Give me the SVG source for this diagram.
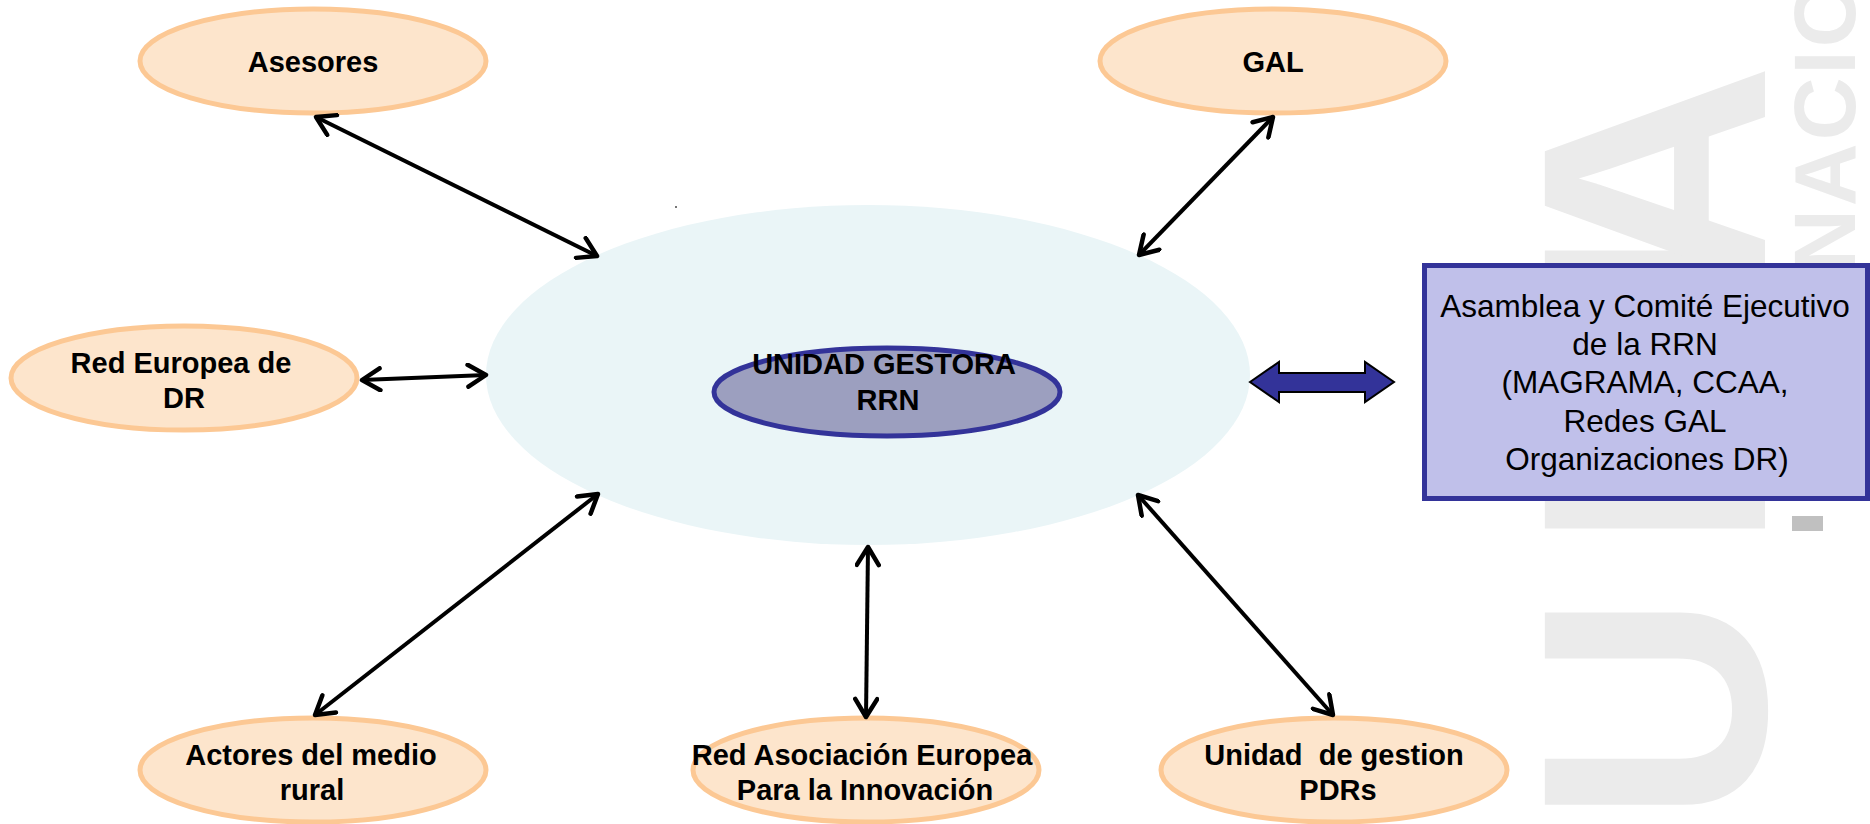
<svg xmlns="http://www.w3.org/2000/svg" width="1870" height="824" viewBox="0 0 1870 824">
  <style>
    .node ellipse { fill: #fde5cc; stroke: #fcc894; stroke-width: 5; }
    .lbl { font-family: "Liberation Sans", Arial, sans-serif; font-weight: bold; font-size: 29px; text-anchor: middle; fill: #000; }
    .box { font-family: "Liberation Sans", Arial, sans-serif; font-size: 31.5px; text-anchor: middle; fill: #000; }
    .wm { font-family: "Liberation Sans", Arial, sans-serif; font-weight: bold; fill: #ebebeb; }
    .conn line { stroke: #000; stroke-width: 4; marker-start: url(#arr); marker-end: url(#arr); }
  </style>
  <defs>
    <marker id="arr" markerUnits="userSpaceOnUse" markerWidth="26" markerHeight="26" viewBox="0 0 26 26" refX="21" refY="13" orient="auto-start-reverse">
      <path d="M3,2 L21,13 L3,24" fill="none" stroke="#000" stroke-width="4.5" stroke-linecap="round" stroke-linejoin="round"/>
    </marker>
  </defs>
  <rect x="0" y="0" width="1870" height="824" fill="#ffffff"/>

  <g id="watermark">
    <text class="wm" font-size="320" transform="rotate(-90)" x="-824 -550 -318 -294" y="1765">UNIA</text>
    <text class="wm" font-size="87" letter-spacing="3" transform="rotate(-90)" x="-272" y="1855">NACIO</text>
    <rect x="1792" y="516" width="31" height="15" fill="#c0c0c0"/>
  </g>

  <g id="halo">
    <ellipse cx="868" cy="375" rx="382" ry="170" fill="#eaf5f7"/>
    <rect x="675" y="206" width="2" height="2" fill="#777"/>
  </g>

  <g id="unidad-gestora">
    <ellipse cx="887" cy="392" rx="173" ry="44" fill="#9c9fbf" stroke="#333399" stroke-width="5"/>
    <text class="lbl" x="884" y="374">UNIDAD GESTORA</text>
    <text class="lbl" x="888" y="410">RRN</text>
  </g>

  <g id="asesores" class="node">
    <ellipse cx="313" cy="61" rx="173" ry="52"/>
    <text class="lbl" x="313" y="72">Asesores</text>
  </g>

  <g id="gal" class="node">
    <ellipse cx="1273" cy="61" rx="173" ry="52"/>
    <text class="lbl" x="1273" y="72">GAL</text>
  </g>

  <g id="red-europea" class="node">
    <ellipse cx="184" cy="378" rx="173" ry="52"/>
    <text class="lbl" x="181" y="373">Red Europea de</text>
    <text class="lbl" x="184" y="408">DR</text>
  </g>

  <g id="actores" class="node">
    <ellipse cx="313" cy="770" rx="173" ry="52"/>
    <text class="lbl" x="311" y="765">Actores del medio</text>
    <text class="lbl" x="312" y="800">rural</text>
  </g>

  <g id="red-asociacion" class="node">
    <ellipse cx="866" cy="770" rx="173" ry="52"/>
    <text class="lbl" x="862" y="765">Red Asociación Europea</text>
    <text class="lbl" x="865" y="800">Para la Innovación</text>
  </g>

  <g id="unidad-gestion" class="node">
    <ellipse cx="1334" cy="770" rx="173" ry="52"/>
    <text class="lbl" x="1334" y="765" xml:space="preserve">Unidad  de gestion</text>
    <text class="lbl" x="1338" y="800">PDRs</text>
  </g>

  <g id="asamblea">
    <rect x="1424.5" y="265.5" width="443" height="233" fill="#c0c0ea" stroke="#333399" stroke-width="5"/>
    <text class="box" x="1645" y="317">Asamblea y Comité Ejecutivo</text>
    <text class="box" x="1645" y="355">de la RRN</text>
    <text class="box" x="1645" y="393">(MAGRAMA, CCAA,</text>
    <text class="box" x="1645" y="432">Redes GAL</text>
    <text class="box" x="1647" y="470">Organizaciones DR)</text>
  </g>

  <g id="connectors" class="conn">
    <line x1="316" y1="117" x2="597" y2="256"/>
    <line x1="362" y1="380" x2="486" y2="375"/>
    <line x1="1273" y1="117" x2="1139" y2="255"/>
    <line x1="598" y1="494" x2="315" y2="715"/>
    <line x1="868" y1="547" x2="866" y2="717"/>
    <line x1="1138" y1="495" x2="1333" y2="715"/>
    <polygon points="1250,382 1279,362 1279,373 1365,373 1365,362 1394,382 1365,402 1365,392 1279,392 1279,402" fill="#333399" stroke="#000" stroke-width="2" stroke-linejoin="miter"/>
  </g>
</svg>
